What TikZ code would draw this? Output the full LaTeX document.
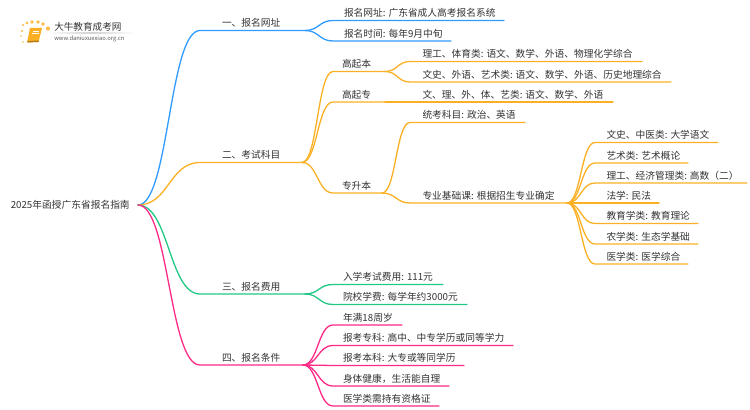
\documentclass[tikz,border=0pt]{standalone}
\usepackage{fontspec}
\usetikzlibrary{calc}
\setmainfont{Noto Sans CJK SC}
\newlength\pxu \setlength\pxu{0.75pt}
\definecolor{cblue}{HTML}{2F9BFF}
\definecolor{corange}{HTML}{FBB024}
\definecolor{cgreen}{HTML}{22C985}
\definecolor{cpink}{HTML}{FF2A85}
\definecolor{ctext}{HTML}{333333}
\tikzset{
  hcurve/.style={to path={let \p1=(\tikztostart),\p2=(\tikztotarget) in .. controls ({0.5*\x1+0.5*\x2},\y1) and ({0.5*\x1+0.5*\x2},\y2) .. (\tikztotarget) \tikztonodes}},
  branchline/.style={line width=1.3*\pxu,line cap=round},
  itemnode/.style={inner sep=0pt,outer sep=0pt,anchor=south west,text depth=0pt,text=ctext,font=\fontsize{7.3}{9}\selectfont},
}
% name, parent, colour, x0, y, x1, padding, text
\newcommand\leafitem[8]{%
  \node[itemnode] (#1) at (#4,#5) {\makebox[\dimexpr(#6pt-#4pt)*3/4\relax][l]{\hspace*{#7\pxu}\raisebox{3.8\pxu}{#8}}};
  \draw[branchline,color=#3] (#2) to[hcurve] (#1.south west) -- (#1.south east);
}
\begin{document}
\begin{tikzpicture}[x=0.75pt,y=-0.75pt]
\useasboundingbox (0,0) rectangle (750,410);
% logo
\foreach \a/\b/\r in {23/25/1.2,27/23/1.5,32/22/1.8,38/22/1.8,43/24/1.8,48/28.5/2.1,22/31/1.1,21/36/.9,23/42/.8}
  \fill[color=corange!85!white] (\a,\b) circle[radius=\r];
\fill[color=corange] (30,28) -- (42,28) -- (38.5,42) -- (27,42.5) -- cycle;
\fill[color=corange!70!black] (27,42.5) -- (38.5,42) -- (39,40.5) -- (28,41) -- cycle;
\draw[color=white,line width=.5pt] (32.5,31) -- (39,31) (32,33.5) -- (38.5,33.5);
\shade[left color=white,right color=white,middle color=black!18] (48,33) rectangle (135,33.7);
\node[inner sep=0pt,anchor=west,text=ctext,font=\fontsize{7.2}{9}\selectfont] (logotitle) at (54,27) {大牛教育成考网};
\node[inner sep=0pt,anchor=west,text=black!65,font=\fontsize{4.35}{6}\selectfont] (logourl) at (54,38.5) {www.daniuxuexiao.org.cn};
% root
\node[inner xsep=8\pxu,inner ysep=0pt,anchor=east,text=ctext,font=\fontsize{7.3}{9}\selectfont] (root) at (138,204.5) {2025年函授广东省报名指南};
\coordinate (rootout) at (138,205);
% level 1
\leafitem{a}{rootout}{cblue}{200}{30.5}{305}{22}{一、报名网址}
\leafitem{b}{rootout}{corange}{200}{162.5}{302}{22}{二、考试科目}
\leafitem{c}{rootout}{cgreen}{200}{294}{305}{22}{三、报名费用}
\leafitem{d}{rootout}{cpink}{200}{365}{303}{22}{四、报名条件}
% blue
\leafitem{a1}{a.south east}{cblue}{333}{20.5}{504}{11}{报名网址: 广东省成人高考报名系统}
\leafitem{a2}{a.south east}{cblue}{333}{41}{451}{11}{报名时间: 每年9月中旬}
% orange
\leafitem{b1}{b.south east}{corange}{333}{71.5}{385}{9}{高起本}
\leafitem{b2}{b.south east}{corange}{333}{102}{385}{9}{高起专}
\leafitem{b3}{b.south east}{corange}{333}{193}{382}{9}{专升本}
\leafitem{b11}{b1.south east}{corange}{410}{61.5}{642}{12.5}{理工、体育类: 语文、数学、外语、物理化学综合}
\leafitem{b12}{b1.south east}{corange}{410}{82}{671}{12.5}{文史、外语、艺术类: 语文、数学、外语、历史地理综合}
\leafitem{b21}{b2.south east}{corange}{385}{102}{613}{37.5}{文、理、外、体、艺类: 语文、数学、外语}
\leafitem{b31}{b3.south east}{corange}{410}{122.5}{525}{12.5}{统考科目: 政治、英语}
\leafitem{b32}{b3.south east}{corange}{410}{203}{567}{12.5}{专业基础课: 根据招生专业确定}
\leafitem{s1}{b32.south east}{corange}{595}{142.5}{718}{11.5}{文史、中医类: 大学语文}
\leafitem{s2}{b32.south east}{corange}{595}{163}{688}{11.5}{艺术类: 艺术概论}
\leafitem{s3}{b32.south east}{corange}{595}{183}{747}{11.5}{理工、经济管理类: 高数（二）}
\leafitem{s4}{b32.south east}{corange}{595}{203}{659}{11.5}{法学: 民法}
\leafitem{s5}{b32.south east}{corange}{595}{223.5}{698}{11.5}{教育学类: 教育理论}
\leafitem{s6}{b32.south east}{corange}{595}{244}{698}{11.5}{农学类: 生态学基础}
\leafitem{s7}{b32.south east}{corange}{595}{264}{688}{11.5}{医学类: 医学综合}
% green
\leafitem{c1}{c.south east}{cgreen}{333}{284.5}{443}{10}{入学考试费用: 111元}
\leafitem{c2}{c.south east}{cgreen}{333}{304.5}{467}{10}{院校学费: 每学年约3000元}
% pink
\leafitem{d1}{d.south east}{cpink}{333}{325}{402}{10}{年满18周岁}
\leafitem{d2}{d.south east}{cpink}{333}{345.5}{513}{10}{报考专科: 高中、中专学历或同等学力}
\leafitem{d3}{d.south east}{cpink}{333}{365.5}{464}{10}{报考本科: 大专或等同学历}
\leafitem{d4}{d.south east}{cpink}{333}{386}{449}{10}{身体健康，生活能自理}
\leafitem{d5}{d.south east}{cpink}{333}{406}{439}{10}{医学类需持有资格证}
\end{tikzpicture}
\end{document}
